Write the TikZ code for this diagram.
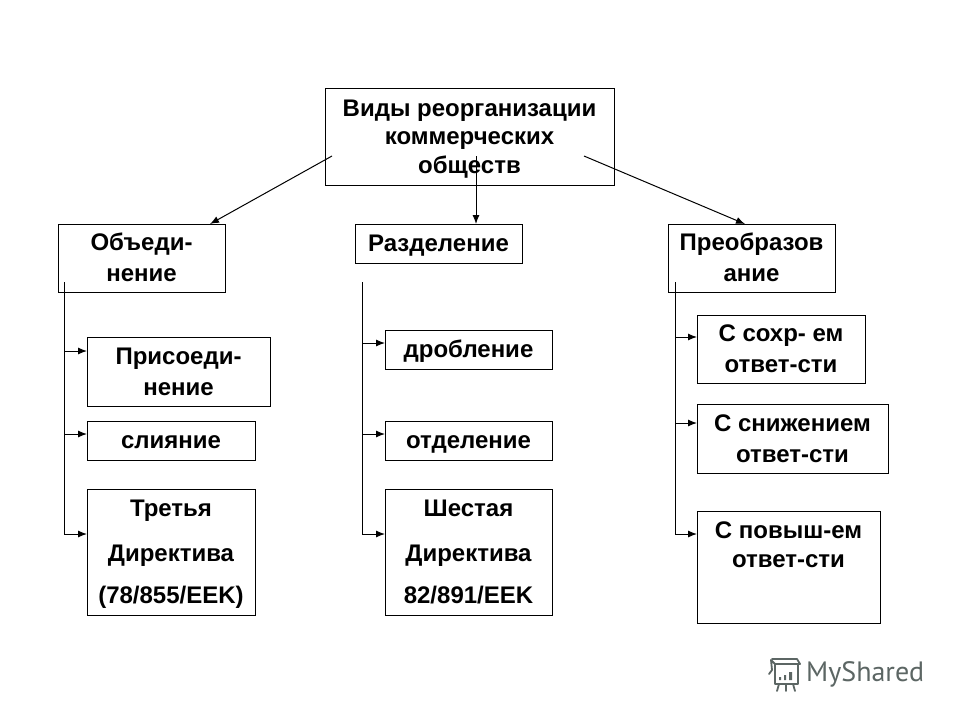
\documentclass[tikz,border=0pt]{standalone}
\usepackage{fontspec}
\setmainfont{Liberation Sans}
\newfontfamily\wmfont{PT Sans}
\usetikzlibrary{arrows.meta}
\definecolor{wm}{HTML}{5C6664}
\tikzset{
  box/.style={draw=black,line width=1pt,fill=white,inner sep=0pt,outer sep=0pt,align=center,
    font=\fontsize{24}{28.5}\selectfont\bfseries},
  link/.style={line width=1pt,-{Latex[length=9pt,width=7pt]}},
  trunk/.style={line width=1pt},
  icon/.style={draw=wm,line width=1.8pt,line cap=round,line join=round}
}
\newcommand{\st}{\rule[-7pt]{0pt}{30pt}}
\newcommand{\bx}[7]{\node[box,minimum width=#3 pt - #1 pt,minimum height=#4 pt - #2 pt] (#5) at ({(#1+#3)/2},{(#2+#4)/2}) {\st #6\st};}
\begin{document}
\begin{tikzpicture}[x=1pt,y=-1pt]
\useasboundingbox (0,0) rectangle (960,720);
\fill[white] (0,0) rectangle (960,720);
% boxes
\bx{325}{88}{614}{185}{root}{Виды реорганизации\\коммерческих\\обществ}{}
\bx{58}{224}{225}{292}{obj}{Объеди-\\нение}{}
\bx{355}{224}{522}{263}{razd}{Разделение}{}
\bx{668}{224}{835}{292}{preob}{Преобразов\\ание}{}
\bx{87}{337}{270}{406}{pris}{Присоеди-\\нение}{}
\bx{87}{421}{255}{460}{sli}{слияние}{}
\bx{87}{489}{255}{615}{tret}{Третья\\[16.5pt]Директива\\[14pt](78/855/EEK)}{}
\bx{385}{330}{552}{369}{drob}{дробление}{}
\bx{385}{421}{552}{460}{otd}{отделение}{}
\bx{385}{489}{552}{615}{shest}{Шестая\\[16.5pt]Директива\\[14pt]82/891/EEK}{}
\bx{697}{315}{865}{383}{sohr}{С сохр- ем\\ответ-сти}{}
\bx{697}{404}{888}{473}{snizh}{С снижением\\ответ-сти}{}
\bx{697}{511}{880}{623}{pov}{С повыш-ем\\ответ-сти\\[16pt]\mbox{}}{}
% coordinates
\coordinate (r1) at (332,156);
\coordinate (r1e) at (210,224);
\coordinate (r2) at (476,156);
\coordinate (r3) at (584,156);
\coordinate (r3e) at (745,224);
\coordinate (La) at (64,282);
\coordinate (Lb) at (64,351);
\coordinate (Lc) at (64,434);
\coordinate (Ld) at (64,534);
\coordinate (Ma) at (362,282);
\coordinate (Mb) at (362,343);
\coordinate (Mc) at (362,434);
\coordinate (Md) at (362,534);
\coordinate (Ra) at (675,282);
\coordinate (Rb) at (675,337);
\coordinate (Rc) at (675,423);
\coordinate (Rd) at (675,534);
% connectors
\draw[link] (r1) -- (r1e);
\draw[link] (r2) -- (r2 |- razd.north);
\draw[link] (r3) -- (r3e);
\draw[trunk] (La) -- (Ld);
\draw[trunk] (Ma) -- (Md);
\draw[trunk] (Ra) -- (Rd);
\draw[link] (Lb) -- (Lb -| pris.west);
\draw[link] (Lc) -- (Lc -| sli.west);
\draw[link] (Ld) -- (Ld -| tret.west);
\draw[link] (Mb) -- (Mb -| drob.west);
\draw[link] (Mc) -- (Mc -| otd.west);
\draw[link] (Md) -- (Md -| shest.west);
\draw[link] (Rb) -- (Rb -| sohr.west);
\draw[link] (Rc) -- (Rc -| snizh.west);
\draw[link] (Rd) -- (Rd -| pov.west);
% watermark
\node[anchor=west,inner sep=0pt,text=wm,font=\wmfont\fontsize{28}{28}\selectfont] (wmtext) at (806,674) {MyShared};
\draw[icon] (775,664) rectangle (798,684);
\draw[icon] (775,664) -- (771,660) -- (772,670) -- (769,674);
\draw[icon] (772,659) -- (797,659) -- (800,664) -- (775,664);
\draw[icon] (779,684) -- (777,691) (786,684) -- (786,691) (793,684) -- (795,691);
\fill[wm] (779,677) rectangle (781,680) (784,675) rectangle (786,680) (789,672) rectangle (792,680);
\end{tikzpicture}
\end{document}
